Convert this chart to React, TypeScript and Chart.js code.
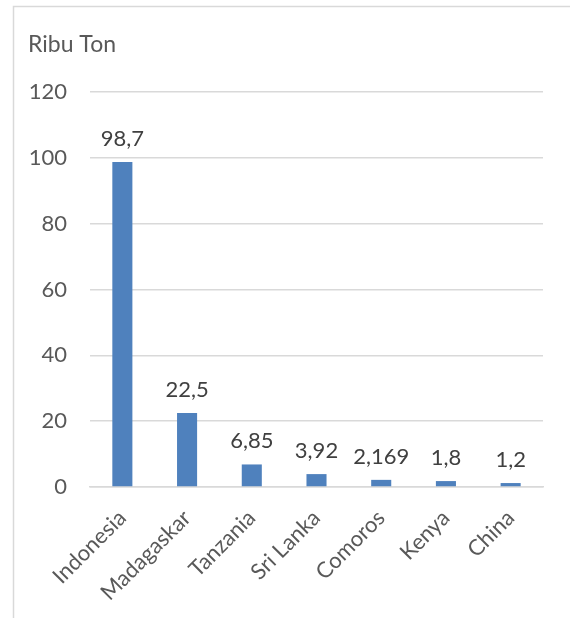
import React, { useEffect, useRef } from "react";
import { Chart, registerables } from "chart.js";

Chart.register(...registerables);

const categories = ["Indonesia", "Madagaskar", "Tanzania", "Sri Lanka", "Comoros", "Kenya", "China"];
const values = [98.7, 22.5, 6.85, 3.92, 2.169, 1.8, 1.2];
const valueLabels = ["98,7", "22,5", "6,85", "3,92", "2,169", "1,8", "1,2"];
const yTicks = [0, 20, 40, 60, 80, 100, 120];
const unitTitle = "Ribu Ton";

const FONT = "Lato, 'Open Sans', sans-serif";

const framePlugin = {
  id: "frame",
  beforeDraw(chart: any) {
    const ctx = chart.ctx;
    ctx.save();
    ctx.strokeStyle = "#d9d9d9";
    ctx.lineWidth = 1.5;
    ctx.beginPath();
    ctx.moveTo(13.5, chart.height);
    ctx.lineTo(13.5, 6.5);
    ctx.lineTo(chart.width, 6.5);
    ctx.stroke();
    ctx.restore();
  },
};

const valueLabelPlugin = {
  id: "valueLabels",
  afterDatasetsDraw(chart: any) {
    const ctx = chart.ctx;
    const meta = chart.getDatasetMeta(0);
    ctx.save();
    ctx.font = `22px ${FONT}`;
    ctx.fillStyle = "#404040";
    ctx.textAlign = "center";
    ctx.textBaseline = "alphabetic";
    meta.data.forEach((bar: any, i: number) => {
      ctx.fillText(valueLabels[i], bar.x, bar.y - 16);
    });
    ctx.restore();
  },
};

export default function App() {
  const ref = useRef<HTMLCanvasElement>(null);
  useEffect(() => {
    if (!ref.current) return;
    const chart = new Chart(ref.current, {
      type: "bar",
      data: {
        labels: categories,
        datasets: [
          {
            data: values,
            backgroundColor: "#4f81bd",
            barPercentage: 0.31,
            categoryPercentage: 1,
          },
        ],
      },
      options: {
        animation: false,
        responsive: false,
        layout: { padding: { left: 28, right: 27, top: 0, bottom: 0 } },
        plugins: {
          legend: { display: false },
          tooltip: { enabled: false },
          title: {
            display: true,
            text: unitTitle,
            align: "start",
            color: "#595959",
            font: { family: FONT, size: 23, weight: "normal" },
            padding: { top: 31, bottom: 33.4 },
          },
        },
        scales: {
          x: {
            grid: { display: false, drawTicks: false },
            border: { display: true, color: "#d9d9d9", width: 1.5 },
            ticks: {
              autoSkip: false,
              minRotation: 45,
              maxRotation: 45,
              padding: 18,
              color: "#595959",
              font: { family: FONT, size: 22 },
            },
            afterFit(scale: any) {
              scale.height = 131;
            },
          },
          y: {
            min: 0,
            max: 120,
            afterBuildTicks(scale: any) {
              scale.ticks = yTicks.map((v) => ({ value: v }));
            },
            grid: { color: "#d9d9d9", lineWidth: 1.5, drawTicks: false },
            border: { display: false },
            ticks: {
              padding: 23,
              color: "#595959",
              font: { family: FONT, size: 22 },
            },
            afterFit(scale: any) {
              scale.width = 62;
            },
          },
        },
      },
      plugins: [framePlugin, valueLabelPlugin],
    });
    return () => chart.destroy();
  }, []);
  return (
    <div style={{ position: "fixed", left: 0, top: 0, width: 570, height: 618, background: "#fff" }}>
      <canvas ref={ref} width={570} height={618} />
    </div>
  );
}
